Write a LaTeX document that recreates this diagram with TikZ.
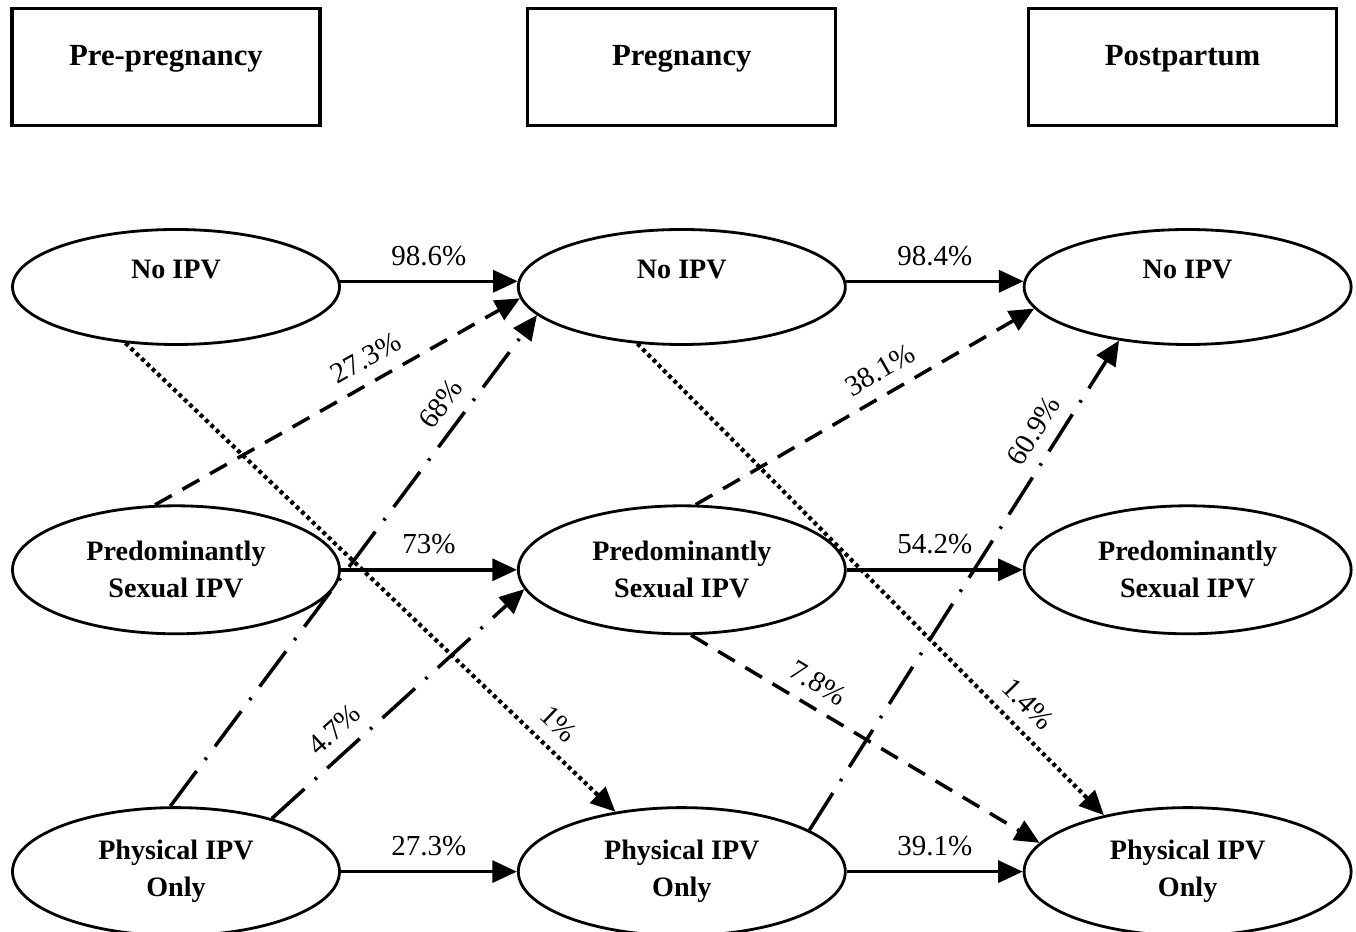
\documentclass[tikz,border=0pt]{standalone}
\usepackage{fontspec}
\setmainfont{Liberation Serif}
\usetikzlibrary{shapes.geometric, arrows.meta, positioning}

\begin{document}
\begin{tikzpicture}[
  node distance=3.3cm and 3.52cm,
  state/.style={draw, ellipse, line width=1.6pt, minimum width=6.54cm, minimum height=2.56cm,
    inner sep=0pt, align=center, font=\fontsize{16}{21}\selectfont\bfseries},
  toprow/.style={minimum height=2.3cm, text height=0.42cm, text depth=0.74cm},
  period/.style={draw, line width=1.9pt, minimum width=6.16cm, minimum height=2.34cm,
    text height=0.45cm, text depth=0.51cm, font=\fontsize{17.5}{21}\selectfont\bfseries},
  arrow/.style={-{Triangle[length=14pt, width=12.5pt]}, line width=2pt},
  dashline/.style={arrow, dash pattern=on 11pt off 7pt},
  dashdot/.style={arrow, dash pattern=on 25pt off 8pt on 1.5pt off 8pt},
  dotline/.style={arrow, line width=2.4pt, dash pattern=on 2.2pt off 2pt},
  pct/.style={font=\fontsize{16.5}{19}\selectfont, inner sep=1pt, above=6pt},
  flat/.style={pct, above=7pt},
]
  \useasboundingbox (0,0) rectangle (27.12,18.64);

  % states
  \node (no1) [state, toprow] at (3.52,12.9) {No IPV};
  \node (no2) [state, toprow, right=of no1] {No IPV};
  \node (no3) [state, toprow, right=of no2] {No IPV};
  \node (sx1) [state, below=3.17cm of no1] {Predominantly\\Sexual IPV};
  \node (sx2) [state, right=of sx1] {Predominantly\\Sexual IPV};
  \node (sx3) [state, right=of sx2] {Predominantly\\Sexual IPV};
  \node (ph1) [state, below=3.42cm of sx1] {Physical IPV\\Only};
  \node (ph2) [state, right=of ph1] {Physical IPV\\Only};
  \node (ph3) [state, right=of ph2] {Physical IPV\\Only};

  % periods
  \node (pre)  [period, above=2.02cm of no1, xshift=-0.2cm] {Pre-pregnancy};
  \node (preg) [period, above=2.02cm of no2] {Pregnancy};
  \node (post) [period, above=2.02cm of no3, xshift=-0.1cm] {Postpartum};

  % staying
  \draw[arrow] (no1.2)    -- node[flat] {98.6\%} (no2.178);
  \draw[arrow] (sx1.east) -- node[flat] {73\%} (sx2.west);
  \draw[arrow] (ph1.east) -- node[flat] {27.3\%} (ph2.west);
  \draw[arrow] (no2.2)    -- node[flat] {98.4\%} (no3.178);
  \draw[arrow] (sx2.east) -- node[flat] {54.2\%} (sx3.west);
  \draw[arrow] (ph2.east) -- node[flat] {39.1\%} (ph3.west);

  % moving
  \draw[dashline] (sx1.108) -- node[pct, sloped, pos=0.61] {27.3\%} (no2.184);
  \draw[dashdot]  (ph1.95)  -- node[pct, sloped, pos=0.79] {68\%} (no2.191);
  \draw[dotline]  (no1.228) -- node[pct, sloped, pos=0.85] {1\%} (ph2.138);
  \draw[dashdot]  (ph1.29)  -- node[pct, sloped, pos=0.31] {4.7\%} (sx2.187);
  \draw[dotline]  (no2.232) -- node[pct, sloped, pos=0.80] {1.4\%} (ph3.146);
  \draw[dashline] (sx2.78)  -- node[pct, sloped, pos=0.58] {38.1\%} (no3.188);
  \draw[dashdot]  (ph2.18)  -- node[pct, sloped, pos=0.79] {60.9\%} (no3.218);
  \draw[dashline] (sx2.278) -- node[pct, sloped, pos=0.33] {7.8\%} (ph3.169);
\end{tikzpicture}
\end{document}
